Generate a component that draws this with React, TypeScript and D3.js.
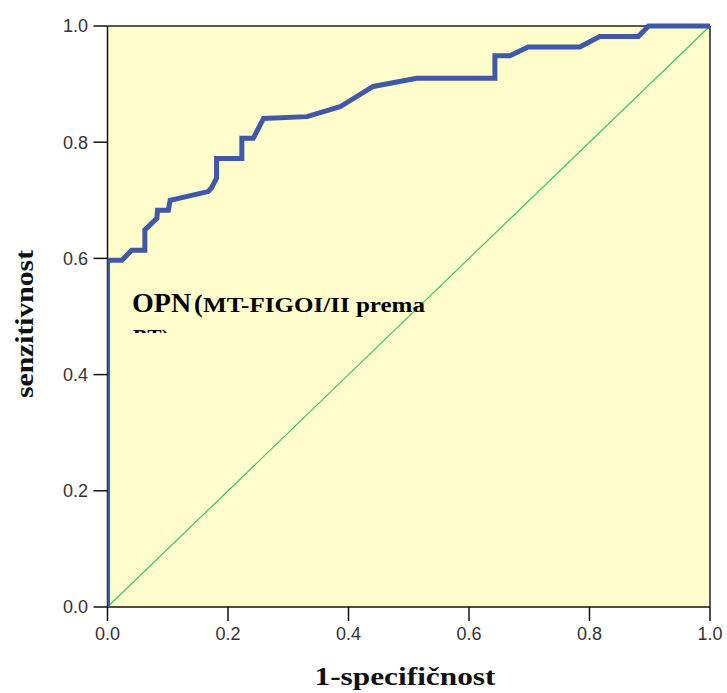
import React from "react";
import * as d3 from "d3";

// ROC curve for OPN: (1 - specificity, sensitivity) vertices
const fprValues = [0, 0, 0.024, 0.04, 0.062, 0.062, 0.082, 0.083, 0.101, 0.104, 0.167, 0.173, 0.181, 0.181, 0.223, 0.223, 0.242, 0.259, 0.331, 0.386, 0.441, 0.513, 0.643, 0.643, 0.668, 0.698, 0.784, 0.817, 0.881, 0.898, 1.0];
const tprValues = [0, 0.597, 0.597, 0.614, 0.614, 0.649, 0.669, 0.683, 0.683, 0.7, 0.715, 0.722, 0.738, 0.772, 0.772, 0.807, 0.807, 0.841, 0.844, 0.861, 0.896, 0.91, 0.91, 0.949, 0.949, 0.964, 0.964, 0.982, 0.982, 1.0, 1.0];

const xTicks = [0, 0.2, 0.4, 0.6, 0.8, 1.0];
const yTicks = [0, 0.2, 0.4, 0.6, 0.8, 1.0];

const xTitle = "1-specifičnost";
const yTitle = "senzitivnost";
const labelMain = "OPN";
const labelParen = "(";
const labelSub = "MT-FIGOI/II prema";
const labelSecond = "BT)";

const W = 727;
const H = 693;
const plot = { left: 107.5, right: 710, top: 26, bottom: 607 };

export default function App() {
  const x = d3.scaleLinear().domain([0, 1]).range([plot.left, plot.right]);
  const y = d3.scaleLinear().domain([0, 1]).range([plot.bottom, plot.top]);

  const pts: [number, number][] = fprValues.map((v, i) => [v, tprValues[i]]);
  const line = d3
    .line<[number, number]>()
    .x((d) => x(d[0]))
    .y((d) => y(d[1]));

  const tickFont = "'Liberation Sans', Arial, sans-serif";
  const serif = "'Liberation Serif', 'Times New Roman', serif";

  return (
    <svg
      width={W}
      height={H}
      style={{ position: "absolute", left: 0, top: 0, display: "block", background: "#ffffff" }}
    >
      <defs>
        <clipPath id="plotClip">
          <rect x={plot.left} y={plot.top - 4} width={plot.right - plot.left + 2} height={plot.bottom - plot.top + 4} />
        </clipPath>
        <clipPath id="labelClip">
          <rect x={100} y={270} width={400} height={63} />
        </clipPath>
      </defs>

      {/* plot background */}
      <rect
        x={plot.left}
        y={plot.top}
        width={plot.right - plot.left}
        height={plot.bottom - plot.top}
        fill="#fffdcc"
      />

      {/* reference diagonal */}
      <line
        x1={x(0)}
        y1={y(0)}
        x2={x(1)}
        y2={y(1)}
        stroke="#3fc85c"
        strokeWidth={1.2}
      />

      {/* frame */}
      <line x1={plot.left} y1={plot.top} x2={plot.right} y2={plot.top} stroke="#222" strokeWidth={1.5} />
      <line x1={plot.right} y1={plot.top} x2={plot.right} y2={plot.bottom} stroke="#222" strokeWidth={1.5} />
      <line x1={plot.left} y1={plot.top} x2={plot.left} y2={plot.bottom} stroke="#111" strokeWidth={1.5} />
      <line x1={plot.left} y1={plot.bottom} x2={plot.right} y2={plot.bottom} stroke="#111" strokeWidth={1.5} />

      {/* ROC curve */}
      <g clipPath="url(#plotClip)">
        <path d={line(pts) || ""} fill="none" stroke="#3f58a8" strokeWidth={5} strokeLinejoin="miter" />
      </g>

      {/* annotation */}
      <text x={132} y={311.5} fontFamily={serif} fontWeight="bold" fontSize={28} fill="#000">
        {labelMain}
      </text>
      <text x={194} y={311.5} fontFamily={serif} fontWeight="bold" fontSize={26} fill="#000">
        {labelParen}
      </text>
      <text x={203} y={311.5} fontFamily={serif} fontWeight="bold" fontSize={21.5} fill="#000" textLength={222} lengthAdjust="spacingAndGlyphs">
        {labelSub}
      </text>
      <g clipPath="url(#labelClip)">
        <text x={133} y={344} fontFamily={serif} fontWeight="bold" fontSize={21.5} fill="#000">
          {labelSecond}
        </text>
      </g>

      {/* y axis ticks */}
      {yTicks.map((t) => (
        <g key={"y" + t}>
          <line x1={plot.left - 14} x2={plot.left} y1={y(t)} y2={y(t)} stroke="#111" strokeWidth={1.5} />
          <text
            x={88}
            y={y(t)}
            dy="0.36em"
            textAnchor="end"
            fontFamily={tickFont}
            fontSize={18}
            fill="#333"
          >
            {d3.format(".1f")(t)}
          </text>
        </g>
      ))}

      {/* x axis ticks */}
      {xTicks.map((t) => (
        <g key={"x" + t}>
          <line x1={x(t)} x2={x(t)} y1={plot.bottom} y2={plot.bottom + 14} stroke="#111" strokeWidth={1.5} />
          <text
            x={x(t)}
            y={640}
            textAnchor="middle"
            fontFamily={tickFont}
            fontSize={18}
            fill="#333"
          >
            {d3.format(".1f")(t)}
          </text>
        </g>
      ))}

      {/* axis titles */}
      <text
        x={405}
        y={685}
        textAnchor="middle"
        fontFamily={serif}
        fontWeight="bold"
        fontSize={26}
        fill="#111"
        textLength={181}
        lengthAdjust="spacingAndGlyphs"
      >
        {xTitle}
      </text>
      <text
        transform="translate(33,324) rotate(-90)"
        textAnchor="middle"
        fontFamily={serif}
        fontWeight="bold"
        fontSize={26}
        fill="#111"
        textLength={148}
        lengthAdjust="spacingAndGlyphs"
      >
        {yTitle}
      </text>
    </svg>
  );
}
